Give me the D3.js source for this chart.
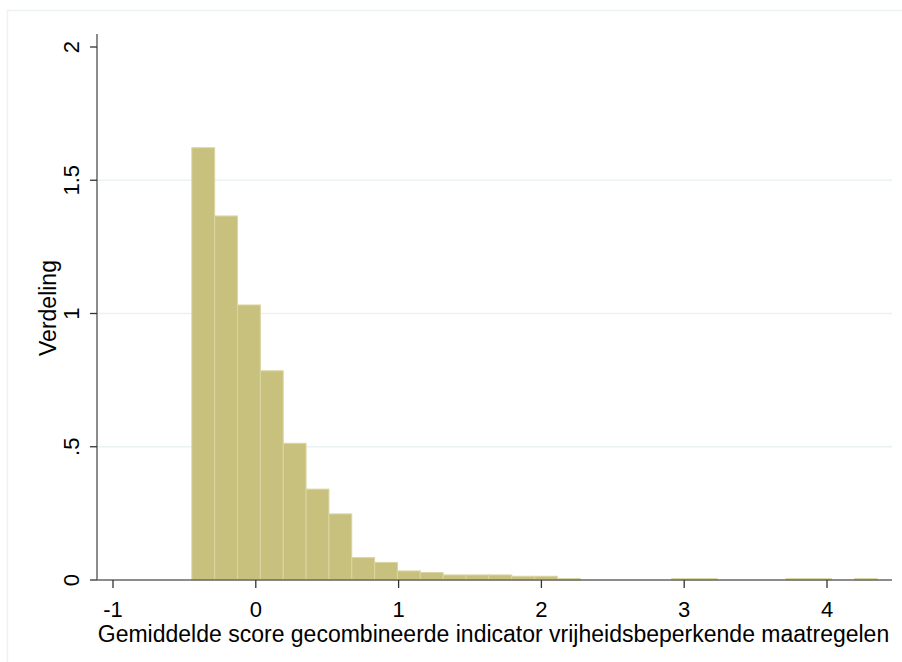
<!DOCTYPE html>
<html>
<head>
<meta charset="utf-8">
<script src="https://cdn.jsdelivr.net/npm/d3@7.9.0/dist/d3.min.js"></script>
<style>
  html, body { margin: 0; padding: 0; background: #fff; }
  svg { display: block; font-family: "Liberation Sans", Arial, sans-serif; }
</style>
</head>
<body>
<svg id="chart" width="902" height="662"></svg>
<script>
// histogram bins: left edge of first bin, bin width, density per bin
const binStart = -0.448;
const binWidth = 0.16;
const density = [
    1.622, 1.366, 1.032, 0.785, 0.513, 0.341, 0.248, 0.084, 0.066, 0.034,
    0.028, 0.019, 0.019, 0.019, 0.014, 0.014, 0.005, 0, 0, 0,
    0, 0.005, 0.005, 0, 0, 0, 0.005, 0.005, 0, 0.005
];
const xTicks = [-1, 0, 1, 2, 3, 4];
const yTicks = [0, 0.5, 1, 1.5, 2];
const yTickLabels = ['0', '.5', '1', '1.5', '2'];
const xTitle = 'Gemiddelde score gecombineerde indicator vrijheidsbeperkende maatregelen';
const yTitle = 'Verdeling';

const svg = d3.select('#chart');

// outer frame (graph region border)
svg.append('rect')
    .attr('x', 7.5).attr('y', 10.5)
    .attr('width', 920).attr('height', 700)
    .attr('fill', '#fff')
    .attr('stroke', '#eaf2f3')
    .attr('stroke-width', 1.5);

const x = d3.scaleLinear().domain([-1, 4]).range([113, 827]);
const y = d3.scaleLinear().domain([0, 2]).range([580, 47]);

const plotLeft = 97, plotRight = 892, plotTop = 34;

// gridlines
svg.append('g')
    .selectAll('line')
    .data(yTicks.filter(d => d > 0 && d < 2))
    .join('line')
    .attr('x1', plotLeft).attr('x2', plotRight)
    .attr('y1', d => y(d)).attr('y2', d => y(d))
    .attr('stroke', '#eaf2f3')
    .attr('stroke-width', 1.5);

// bars
const bins = density.map((v, i) => ({ x0: binStart + i * binWidth, x1: binStart + (i + 1) * binWidth, v }));

svg.append('g')
    .selectAll('rect')
    .data(bins.filter(d => d.v > 0))
    .join('rect')
    .attr('x', d => x(d.x0))
    .attr('width', d => x(d.x1) - x(d.x0))
    .attr('y', d => y(d.v))
    .attr('height', d => y(0) - y(d.v))
    .attr('fill', '#c8c17e')
    .attr('stroke', '#dad5a2')
    .attr('stroke-width', 1);

// y axis
const yAxis = svg.append('g').attr('transform', `translate(${plotLeft},0)`);
yAxis.append('line')
    .attr('x1', 0).attr('x2', 0)
    .attr('y1', plotTop).attr('y2', y(0))
    .attr('stroke', '#666').attr('stroke-width', 1.5);
yAxis.selectAll('.tick')
    .data(yTicks)
    .join('line')
    .attr('x1', -7).attr('x2', 0)
    .attr('y1', d => y(d)).attr('y2', d => y(d))
    .attr('stroke', '#333').attr('stroke-width', 1.3);
yAxis.selectAll('text')
    .data(yTicks)
    .join('text')
    .attr('transform', d => `translate(-18,${y(d)}) rotate(-90)`)
    .attr('text-anchor', 'middle')
    .attr('font-size', 22)
    .attr('fill', '#000')
    .text((d, i) => yTickLabels[i]);

// x axis
const xAxis = svg.append('g').attr('transform', `translate(0,${y(0)})`);
xAxis.append('line')
    .attr('x1', plotLeft).attr('x2', plotRight)
    .attr('y1', 0).attr('y2', 0)
    .attr('stroke', '#666').attr('stroke-width', 1.5);
xAxis.selectAll('.tick')
    .data(xTicks)
    .join('line')
    .attr('x1', d => x(d)).attr('x2', d => x(d))
    .attr('y1', 0).attr('y2', 8)
    .attr('stroke', '#333').attr('stroke-width', 1.3);
xAxis.selectAll('text')
    .data(xTicks)
    .join('text')
    .attr('x', d => x(d))
    .attr('y', 37)
    .attr('text-anchor', 'middle')
    .attr('font-size', 22)
    .attr('fill', '#000')
    .text(d => d);

// titles
svg.append('text')
    .attr('x', (plotLeft + plotRight) / 2 - 1)
    .attr('y', 642)
    .attr('text-anchor', 'middle')
    .attr('font-size', 23)
    .attr('fill', '#000')
    .text(xTitle);

svg.append('text')
    .attr('transform', `translate(56,${(y(0) + plotTop) / 2 + 1}) rotate(-90)`)
    .attr('text-anchor', 'middle')
    .attr('font-size', 23)
    .attr('fill', '#000')
    .text(yTitle);
</script>
</body>
</html>
